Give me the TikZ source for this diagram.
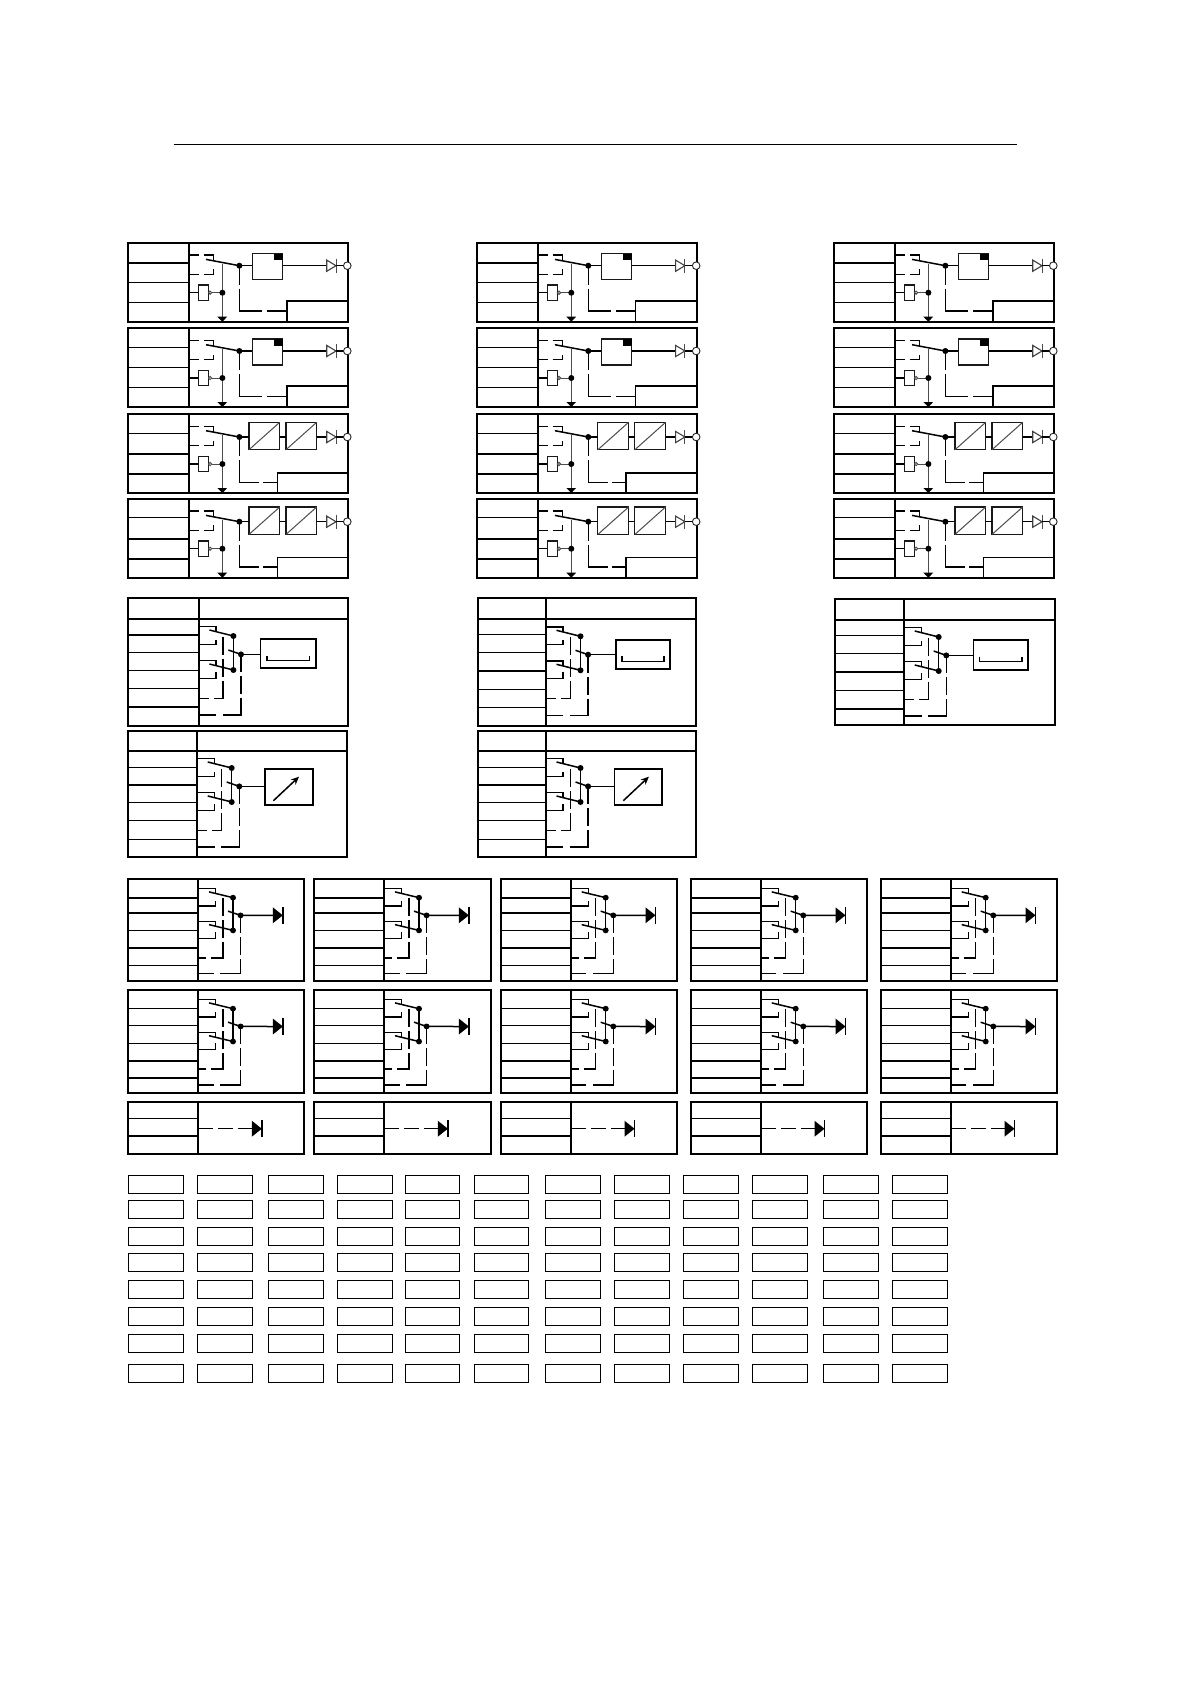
\documentclass[tikz,border=0pt]{standalone}
\usetikzlibrary{arrows.meta}
\tikzset{
  outer/.style={line width=1.9pt,black,line join=miter},
  rowline/.style={line width=1.5pt,black},
  wire/.style={line width=1.5pt,black},
  thinwire/.style={line width=1pt,black!70},
  topdash/.style={line width=1.5pt,black,dash pattern=on 9pt off 5pt on 24pt off 0pt},
  plcdash/.style={line width=1.5pt,black,dash pattern=on 19pt off 4pt on 45pt off 5pt on 30pt off 0pt},
  convdash/.style={line width=1.5pt,black,dash pattern=on 19pt off 4pt on 42pt off 4pt on 30pt off 0pt},
  innerdash/.style={line width=1.5pt,black,dash pattern=on 18pt off 4pt on 18pt off 4pt on 27pt off 5pt on 30pt off 0pt},
  outerdash/.style={line width=1.5pt,black,dash pattern=on 18pt off 4pt on 18pt off 4pt on 34.6pt off 6.7pt on 30pt off 0pt},
  signaldash/.style={line width=1.5pt,black,dash pattern=on 15pt off 5pt},
  plainbox/.style={draw=black!90,line width=1.1pt,fill=white,anchor=north west,inner sep=0pt,outer sep=0pt},
  heavybox/.style={draw=black,line width=1.7pt,fill=white,anchor=north west,inner sep=0pt,outer sep=0pt},
  cellbox/.style={draw=black,line width=1.2pt,anchor=north west,inner sep=0pt,outer sep=0pt,minimum height=18pt},
  junction/.style={fill=black}
}
% table frame: left, top, right, bottom, divider, row lines
\newcommand{\tableframe}[6]{%
  \draw[outer] (#1,#2) rectangle (#3,#4);
  \draw[outer] (#5,#2) -- (#5,#4);
  \foreach \ry in {#6} \draw[rowline] (#1,\ry) -- (#5,\ry);
}
% relay and contact part of the upper blocks; #2 = style of the feedback line, #3 = its end
\newcommand{\relaypart}[3]{%
  \begin{scope}[shift={(0,#1)}]
    \coordinate (J) at (111.7,23);
    \coordinate (G) at (94.7,50);
    \draw[topdash] (62,12.3) -- (85.7,12.3) -- (85.7,18.3);
    \draw[topdash] (62,31.7) -- (85.7,31.7) -- (85.7,26.7);
    \draw[wire] (78.3,16.7) -- (J);
    \draw[thinwire] (94.7,21) -- (94.7,74);
    \fill[black] (89.7,74) -- (99.5,74) -- (94.7,79) -- cycle;
    \draw[wire] (62,50) -- (71,50);
    \draw[thinwire] (84,50) -- (G);
    \node[plainbox,line width=1.4pt,minimum width=9.7pt,minimum height=15.4pt] (R) at (71,42.3) {};
    \draw[thinwire,fill=white] (82.4,50) circle (1.6);
    \fill[junction] (G) circle (3);
    \fill[junction] (J) circle (3);
    \draw[#2] (J) -- (111.7,68.3) -- (#3,68.3);
  \end{scope}
}
% hollow output diode and terminal
\newcommand{\outpart}[1]{%
  \begin{scope}[shift={(0,#1)}]
    \draw[line width=1.1pt,black!75,fill=white] (199,17.4) -- (199,28.6) -- (208.3,23) -- cycle;
    \draw[thinwire] (208.3,16) -- (208.3,30);
    \draw[wire] (208.3,23) -- (216,23);
    \node[draw=black!85,circle,fill=white,line width=.9pt,minimum size=7.6pt,inner sep=0pt,outer sep=0pt] (T) at (219.6,23) {};
  \end{scope}
}
\newcommand{\plcblock}[3]{% top, bottom, rows
  \tableframe{0}{#1}{220.6}{#2}{61.3}{#3}
  \relaypart{#1}{plcdash}{159}
  \node[plainbox,minimum width=30.3pt,minimum height=26pt] (P) at (124.7,#1+11) {};
  \fill[black] (146.3,#1+11) rectangle (155,#1+17.7);
  \draw[wire] (J) -- (J-|P.west);
  \draw[wire] (J-|P.east) -- (199,#1+23);
  \outpart{#1}
  \node[heavybox,minimum width=61.6pt,minimum height=#2-#1-58.3] (S) at (159,#1+58.3) {};
}
\newcommand{\convblock}[3]{% top, bottom, rows
  \tableframe{0}{#1}{220.6}{#2}{61.3}{#3}
  \relaypart{#1}{convdash}{149.7}
  \node[plainbox,minimum width=30.7pt,minimum height=27.4pt] (A) at (121.3,#1+8.3) {};
  \node[plainbox,minimum width=30.7pt,minimum height=27.4pt] (B) at (158.3,#1+8.3) {};
  \draw[thinwire] (A.south west) -- (A.north east);
  \draw[thinwire] (B.south west) -- (B.north east);
  \draw[wire] (J) -- (J-|A.west);
  \draw[wire] (J-|A.east) -- (J-|B.west);
  \draw[wire] (J-|B.east) -- (199,#1+23);
  \outpart{#1}
  \node[heavybox,minimum width=70.9pt,minimum height=#2-#1-58.7] (S) at (149.7,#1+58.7) {};
}
% ganged contact group: divider x, first y, y scale
\newcommand{\swgroup}[3]{%
  \begin{scope}[shift={(#1,#2)},yscale=#3]
    \coordinate (D1) at (34.7,9.3);
    \coordinate (D2) at (34.7,43.3);
    \coordinate (D3) at (42.3,27.7);
    \draw[wire] (0,0) -- (17.3,0) -- (17.3,5);
    \draw[wire] (0,17.7) -- (17.3,17.7) -- (17.3,13);
    \draw[wire] (0,34) -- (17.3,34) -- (17.3,39);
    \draw[wire] (0,51.7) -- (17.3,51.7) -- (17.3,45);
    \draw[wire] (10.7,3.3) -- (D1);
    \draw[wire] (10.7,37.3) -- (D2);
    \draw[wire] (29.7,23.3) -- (D3);
    \draw[wire] (D1) -- (D2);
    \draw[innerdash] (24.5,10) -- (24.5,71.7) -- (0,71.7);
    \draw[outerdash] (D3) -- (42.3,88.3) -- (0,88.3);
    \fill[junction] (D1) circle (3);
    \fill[junction] (D2) circle (3);
    \fill[junction] (D3) circle (3);
  \end{scope}
}
\newcommand{\soliddiode}[2]{%
  \fill[black] (#1,#2-8) -- (#1,#2+8) -- (#1+10,#2) -- cycle;
  \draw[line width=1.5pt,black] (#1+10,#2-8.5) -- (#1+10,#2+8.5);
}
\newcommand{\traybox}[5]{% x0, x1, y0, y1, inset
  \node[heavybox,minimum width=#2-#1,minimum height=#4-#3] (Q) at (#1,#3) {};
  \draw[wire] (D3) -- (D3-|Q.west);
  \draw[wire] (#1+#5,#3+16.7) -- (#1+#5,#3+21.7) -- (#2-#5,#3+21.7) -- (#2-#5,#3+16.7);
}
\newcommand{\meterbox}[2]{% x0, x1
  \node[heavybox,minimum width=#2-#1,minimum height=36.6pt] (M) at (#1,768.7) {};
  \draw[wire] (D3) -- (D3-|M.west);
  \draw[line width=1.5pt,black,-{Stealth[length=8pt,width=7pt]}] (#1+8.7,800.7) -- (#1+34.3,776.7);
}
\begin{document}
\begin{tikzpicture}[x=1pt,y=-1pt]
\useasboundingbox (0,0) rectangle (1190,1684);
\fill[white] (0,0) rectangle (1190,1684);
\coordinate (TL) at (173.5,144.3);
\coordinate (TR) at (1017,144.3);
\draw[line width=1pt,black] (TL) -- (TR);

% upper four rows, three columns
\foreach \X in {127.7,476.6,833.7}{
  \begin{scope}[shift={(\X,0)}]
    \plcblock{242.7}{322.3}{263,282.7,302.7}
    \plcblock{328}{406.7}{347.3,367.7,387.7}
    \convblock{414}{493}{433.7,454,474}
    \convblock{498.7}{577.7}{517.7,539,559}
  \end{scope}
}

% tray and meter blocks
\tableframe{127.7}{598.3}{348}{725.7}{198.7}{619,635,652.3,670.3,688.7,707}
\draw[rowline] (198.7,619) -- (348,619);
\swgroup{198.7}{626.7}{1}
\traybox{260.5}{316}{639}{668}{6.5}

\tableframe{128.3}{731}{346.7}{856.7}{197}{751,767.7,785,802.7,820.7,839.3}
\draw[rowline] (197,751) -- (346.7,751);
\swgroup{197}{758.7}{1}
\meterbox{264.7}{312.7}

\tableframe{478.2}{598}{696}{726}{545.8}{619,634.7,652.7,671,689.7,707.7}
\draw[rowline] (545.8,619) -- (696,619);
\swgroup{545.8}{627}{1}
\traybox{615.8}{670}{639.7}{669}{6}

\tableframe{478.2}{731}{696}{856.7}{545.8}{751,767.7,785,802.7,820.7,839.3}
\draw[rowline] (545.8,751) -- (696,751);
\swgroup{545.8}{758.7}{1}
\meterbox{614.6}{662}

\tableframe{834.8}{599}{1054.7}{725}{904}{620,635.7,653.7,672,690.7,709}
\draw[rowline] (904,620) -- (1054.7,620);
\swgroup{904}{627.7}{1}
\traybox{973.6}{1028.2}{640}{670}{6}

% five columns of diode blocks
\foreach \L/\D/\RR in {127.7/198.3/304.3,314/384.3/491,500.7/571/677.3,690.7/761/867,880.7/951/1057.3}{
  \tableframe{\L}{878.7}{\RR}{981.3}{\D}{898,913,930.7,948,965.7}
  \swgroup{\D}{888.7}{.963}
  \draw[wire] (D3) -- (\D+75,915.3);
  \soliddiode{\D+74.5}{915.3}
  \tableframe{\L}{990}{\RR}{1092.7}{\D}{1008.7,1025.7,1043.3,1061,1078}
  \swgroup{\D}{999.7}{.965}
  \draw[wire] (D3) -- (\D+75,1026.5);
  \soliddiode{\D+74.5}{1026.5}
  \tableframe{\L}{1101.7}{\RR}{1154}{\D}{1118.7,1136}
  \draw[signaldash] (\D,1128.7) -- (\D+54,1128.7);
  \soliddiode{\D+53.5}{1128.7}
}

% grid of empty cells
\foreach \cy in {1175.3,1200.7,1227.8,1253.3,1280.5,1307.5,1334.3,1364.3}{
  \foreach \cx/\cw in {128.3/55,197.3/55,268.3/55,337.3/55,405.3/54.4,474.3/54.4,545.3/55.4,614.3/55.4,683.3/55.4,752.3/55.4,823.3/55.4,892.3/55.4}{
    \node[cellbox,minimum width=\cw] (C) at (\cx,\cy) {};
  }
}
\end{tikzpicture}
\end{document}
